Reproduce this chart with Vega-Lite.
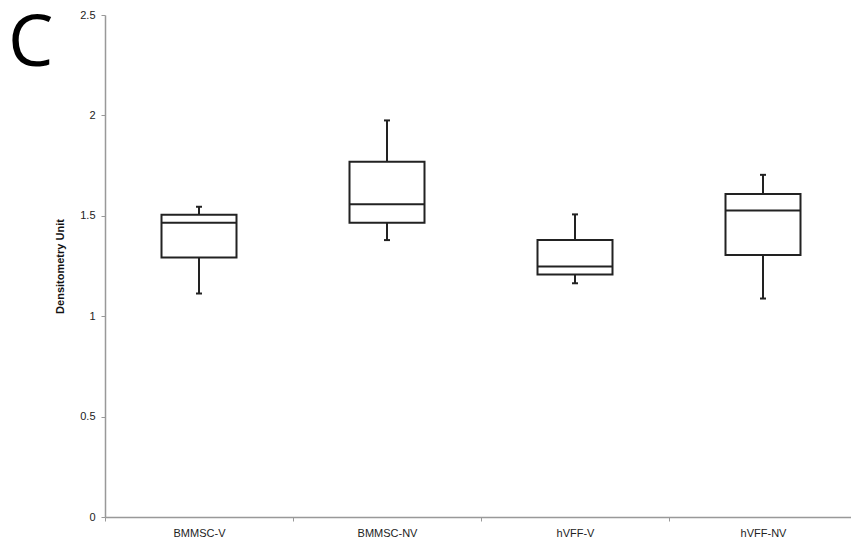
{
  "$schema": "https://vega.github.io/schema/vega-lite/v6.json",
  "width": 746,
  "height": 502,
  "autosize": {"type": "none"},
  "padding": {"left": 105, "top": 15, "right": 0, "bottom": 29},
  "background": "white",
  "config": {"view": {"stroke": null}},
  "title": {
    "text": "C",
    "anchor": "start",
    "frame": "group",
    "font": "Open Sans",
    "fontSize": 72,
    "fontWeight": "normal",
    "color": "#000000",
    "baseline": "alphabetic",
    "offset": -129,
    "dx": -97
  },
  "data": {
    "values": [
      {"group": "BMMSC-V", "min": 1.113, "q1": 1.292, "median": 1.465, "q3": 1.505, "max": 1.545},
      {"group": "BMMSC-NV", "min": 1.379, "q1": 1.465, "median": 1.557, "q3": 1.769, "max": 1.975},
      {"group": "hVFF-V", "min": 1.164, "q1": 1.208, "median": 1.248, "q3": 1.379, "max": 1.507},
      {"group": "hVFF-NV", "min": 1.088, "q1": 1.305, "median": 1.527, "q3": 1.609, "max": 1.704}
    ]
  },
  "encoding": {
    "x": {
      "field": "group",
      "type": "nominal",
      "sort": null,
      "scale": {"paddingInner": 0, "paddingOuter": 0, "range": [0, 752]},
      "axis": {
        "title": null,
        "labelAngle": 0,
        "labelFont": "Liberation Sans",
        "labelFontSize": 11,
        "labelColor": "#222222",
        "labelPadding": 6,
        "domainColor": "#999999",
        "tickColor": "#999999",
        "tickSize": 4,
        "tickBand": "extent",
        "domainWidth": 1.5
      }
    }
  },
  "layer": [
    {
      "mark": {"type": "rule", "color": "#222222", "strokeWidth": 2},
      "encoding": {
        "y": {
          "field": "min",
          "type": "quantitative",
          "scale": {"domain": [0, 2.5], "nice": false},
          "axis": {
            "title": "Densitometry Unit",
            "titleFont": "Liberation Sans",
            "titleFontSize": 11,
            "titleFontWeight": "bold",
            "titleColor": "#111111",
            "titlePadding": 14,
            "values": [0, 0.5, 1, 1.5, 2, 2.5],
            "format": ".1~f",
            "labelFont": "Liberation Sans",
            "labelFontSize": 11,
            "labelColor": "#222222",
            "labelPadding": 6,
            "domainColor": "#999999",
            "domainWidth": 1.5,
            "tickColor": "#999999",
            "tickSize": 4,
            "grid": false
          }
        },
        "y2": {"field": "max"}
      }
    },
    {
      "mark": {"type": "bar", "fill": "white", "stroke": "#222222", "strokeWidth": 2, "size": 75},
      "encoding": {
        "y": {"field": "q1", "type": "quantitative"},
        "y2": {"field": "q3"}
      }
    },
    {
      "mark": {"type": "tick", "color": "#222222", "opacity": 1, "thickness": 2, "size": 75},
      "encoding": {"y": {"field": "median", "type": "quantitative"}}
    },
    {
      "mark": {"type": "tick", "color": "#222222", "opacity": 1, "thickness": 2, "size": 6},
      "encoding": {"y": {"field": "min", "type": "quantitative"}}
    },
    {
      "mark": {"type": "tick", "color": "#222222", "opacity": 1, "thickness": 2, "size": 6},
      "encoding": {"y": {"field": "max", "type": "quantitative"}}
    }
  ]
}
